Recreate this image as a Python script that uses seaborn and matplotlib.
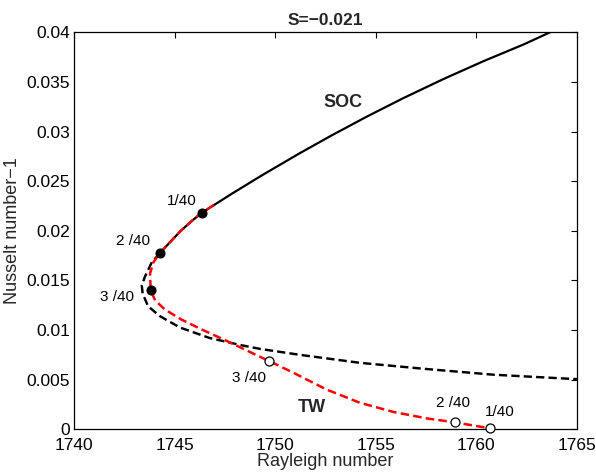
import matplotlib
matplotlib.use("Agg")
import matplotlib.pyplot as plt
import seaborn as sns
import pandas as pd

# ---- data ----
soc_x = [1744.27, 1744.70, 1745.31, 1745.80, 1746.34, 1747.84, 1749.34, 1751.24,
         1752.84, 1754.54, 1756.34, 1758.34, 1760.34, 1762.34, 1763.71, 1764.84]
soc_y = [0.01776, 0.0187, 0.0200, 0.0209, 0.0218, 0.02373, 0.02559, 0.02784,
         0.02965, 0.03149, 0.03334, 0.03527, 0.03708, 0.03877, 0.04005, 0.04071]

unstable_x = [1744.27, 1743.86, 1743.53, 1743.37, 1743.41, 1743.68, 1744.27, 1745.27,
              1746.74, 1748.25, 1749.25, 1751.24, 1754.20, 1757.37, 1760.85, 1765.0]
unstable_y = [0.01776, 0.0168, 0.0154, 0.0145, 0.0137, 0.0124, 0.0114, 0.01025,
              0.0092, 0.0085, 0.0081, 0.0075, 0.0067, 0.0061, 0.0055, 0.00505]

tw_x = [1746.95, 1746.34, 1745.80, 1745.31, 1744.70, 1744.27, 1743.94, 1743.78,
        1743.81, 1744.03, 1744.5, 1745.3, 1746.3, 1747.6, 1749.25, 1749.71,
        1750.90, 1752.56, 1754.20, 1755.87, 1757.53, 1758.94, 1760.67]
tw_y = [0.0226, 0.0218, 0.0209, 0.0200, 0.0187, 0.01776, 0.0168, 0.0157,
        0.0140, 0.0130, 0.0121, 0.0111, 0.0101, 0.0089, 0.0073, 0.00687,
        0.0057, 0.0040, 0.00268, 0.00175, 0.0011, 0.0007, 0.0001]

filled_x = [1746.34, 1744.27, 1743.81]
filled_y = [0.0218, 0.01776, 0.0140]
filled_lab = ["1/40", "2 /40", "3 /40"]

open_x = [1749.71, 1758.94, 1760.67]
open_y = [0.00687, 0.0007, 0.0001]
open_lab = ["3 /40", "2 /40", "1/40"]

xticks = [1740, 1745, 1750, 1755, 1760, 1765]
yticks = [0, 0.005, 0.01, 0.015, 0.02, 0.025, 0.03, 0.035, 0.04]
ytick_labels = ["0", "0.005", "0.01", "0.015", "0.02", "0.025", "0.03", "0.035", "0.04"]

# ---- style ----
sns.set_theme(style="white")
plt.rcParams["font.family"] = ["Liberation Sans", "DejaVu Sans"]
plt.rcParams["axes.unicode_minus"] = True

fig = plt.figure(figsize=(5.96, 4.75), dpi=100)
ax = fig.add_axes([74 / 596, 1 - 429.3 / 475, (577 - 74) / 596, (429.3 - 32.3) / 475])

df_soc = pd.DataFrame({"x": soc_x, "y": soc_y})
df_uns = pd.DataFrame({"x": unstable_x, "y": unstable_y})
df_tw = pd.DataFrame({"x": tw_x, "y": tw_y})

dash = (0, (3.4, 1.7))
sns.lineplot(data=df_uns, x="x", y="y", sort=False, estimator=None, ax=ax,
             color="black", linewidth=1.75, linestyle=dash)
sns.lineplot(data=df_soc, x="x", y="y", sort=False, estimator=None, ax=ax,
             color="black", linewidth=1.6)
sns.lineplot(data=df_tw, x="x", y="y", sort=False, estimator=None, ax=ax,
             color="red", linewidth=1.8, linestyle=dash)

sns.scatterplot(x=filled_x, y=filled_y, ax=ax, color="black", s=42,
                edgecolor="black", linewidth=0.8, zorder=5, clip_on=False)
sns.scatterplot(x=open_x, y=open_y, ax=ax, color="white", s=42,
                edgecolor="black", linewidth=0.9, zorder=5, clip_on=False)

# annotations
lab_pos_filled = [(1745.37, 0.0230), (1742.93, 0.0190), (1742.14, 0.0133)]
for (tx, ty), t in zip(lab_pos_filled, filled_lab):
    ax.text(tx, ty, t, fontsize=11, ha="center", va="center", color="black")
lab_pos_open = [(1748.70, 0.0052), (1758.82, 0.0027), (1761.17, 0.0017)]
for (tx, ty), t in zip(lab_pos_open, open_lab):
    ax.text(tx, ty, t, fontsize=11, ha="center", va="center", color="black")

ax.text(1753.37, 0.0329, "SOC", fontsize=13, fontweight="bold", ha="center", va="center")
ax.text(1751.81, 0.0022, "TW", fontsize=13, fontweight="bold", ha="center", va="center")

ax.set_xlim(1740, 1765)
ax.set_ylim(0, 0.04)
ax.set_xticks(xticks)
ax.set_xticklabels([str(v) for v in xticks])
ax.set_yticks(yticks)
ax.set_yticklabels(ytick_labels)
ax.tick_params(direction="in", length=4, width=0.8, top=True, right=True,
               labelsize=12.5, colors="black")
ax.tick_params(axis="x", pad=6.5)
ax.tick_params(axis="y", pad=3)
for sp in ax.spines.values():
    sp.set_color("black")
    sp.set_linewidth(0.9)

ax.set_xlabel("Rayleigh number", fontsize=13, labelpad=0)
ax.set_ylabel("Nusselt number\u22121", fontsize=13, labelpad=4)
ax.set_title("S=\u22120.021", fontsize=12.5, fontweight="bold", pad=5)

fig.savefig("out.png", dpi=100)
